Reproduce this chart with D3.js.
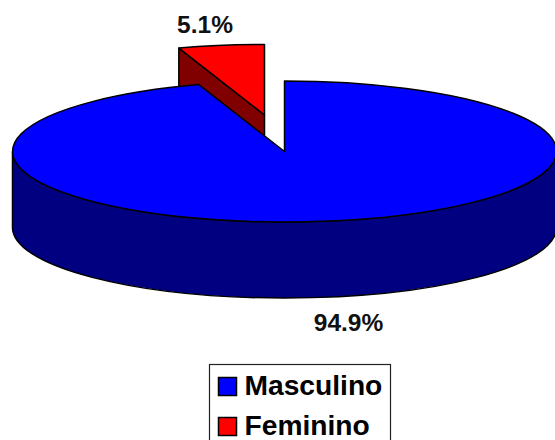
<!DOCTYPE html>
<html>
<head>
<meta charset="utf-8">
<script src="https://cdn.jsdelivr.net/npm/d3@7"></script>
<style>
    html, body { margin: 0; padding: 0; background: #fff; overflow: hidden; }
    text { font-family: "Liberation Sans", Arial, sans-serif; font-weight: bold; }
</style>
</head>
<body>
<div id="vis"></div>
<script>
const width = 555;
const height = 440;

const categories = ["Masculino", "Feminino"];
const values = [94.9, 5.1];
const valueLabels = ["94.9%", "5.1%"];
const topColors = ["#0000ff", "#ff0000"];
const sideColors = ["#000080", "#800000"];

const center = { x: 284.5, y: 151.5 };
const rx = 272;
const ry = 70.5;
const depth = 76;
const explode = { x: -20, y: -36.5 };

const svg = d3.select("#vis").append("svg")
    .attr("width", width)
    .attr("height", height)
    .style("display", "block");

const slices = d3.pie().sort(null)(values);
const unitArc = d3.arc().innerRadius(0).outerRadius(1);

// point on the flattened rim for a pie angle (0 = twelve o'clock, clockwise)
function rim(angle) {
    return [rx * Math.sin(angle), -ry * Math.cos(angle)];
}

function drawTop(g, slice, i) {
    g.append("path")
        .attr("d", unitArc(slice))
        .attr("transform", `scale(${rx},${ry})`)
        .attr("vector-effect", "non-scaling-stroke")
        .attr("fill", topColors[i])
        .attr("stroke", "#000")
        .attr("stroke-width", 1.5)
        .attr("stroke-linejoin", "round");
}

// the detached slice goes first so the big one covers its lower part
const small = svg.append("g")
    .attr("transform", `translate(${center.x + explode.x},${center.y + explode.y})`);
const corner = rim(slices[1].startAngle);
small.append("path")
    .attr("d", d3.line()([[0, 0], corner, [corner[0], corner[1] + depth], [0, depth]]) + "Z")
    .attr("fill", sideColors[1])
    .attr("stroke", "#000")
    .attr("stroke-width", 1.5)
    .attr("stroke-linejoin", "round");
drawTop(small, slices[1], 1);

const big = svg.append("g")
    .attr("transform", `translate(${center.x},${center.y})`);
// front wall of the big slice: left rim, down, along the lower half, back up
big.append("path")
    .attr("d", `M${-rx},0 L${-rx},${depth} A${rx},${ry} 0 0 0 ${rx},${depth} L${rx},0 A${rx},${ry} 0 0 1 ${-rx},0 Z`)
    .attr("fill", sideColors[0])
    .attr("stroke", "#000")
    .attr("stroke-width", 1.5);
drawTop(big, slices[0], 0);

// value labels
svg.append("text")
    .attr("x", 205)
    .attr("y", 32.5)
    .attr("text-anchor", "middle")
    .attr("font-size", 24.5)
    .attr("fill", "#111")
    .text(valueLabels[1]);

svg.append("text")
    .attr("x", 348.5)
    .attr("y", 331)
    .attr("text-anchor", "middle")
    .attr("font-size", 24.5)
    .attr("fill", "#111")
    .text(valueLabels[0]);

// legend, its box runs off the bottom of the page
const legend = svg.append("g").attr("transform", "translate(209.5,364.5)");
legend.append("rect")
    .attr("width", 181)
    .attr("height", 90)
    .attr("fill", "#fff")
    .attr("stroke", "#222")
    .attr("stroke-width", 1.2);

const rows = legend.selectAll("g.row")
    .data(categories)
    .enter()
    .append("g")
    .attr("class", "row")
    .attr("transform", (d, i) => `translate(0,${i * 40})`);

rows.append("rect")
    .attr("x", 9)
    .attr("y", 13)
    .attr("width", 18)
    .attr("height", 18)
    .attr("fill", (d, i) => topColors[i])
    .attr("stroke", "#000")
    .attr("stroke-width", 1.5);

rows.append("text")
    .attr("x", 35)
    .attr("y", 30.5)
    .attr("font-size", 28.2)
    .attr("fill", "#000")
    .text(d => d);
</script>
</body>
</html>
